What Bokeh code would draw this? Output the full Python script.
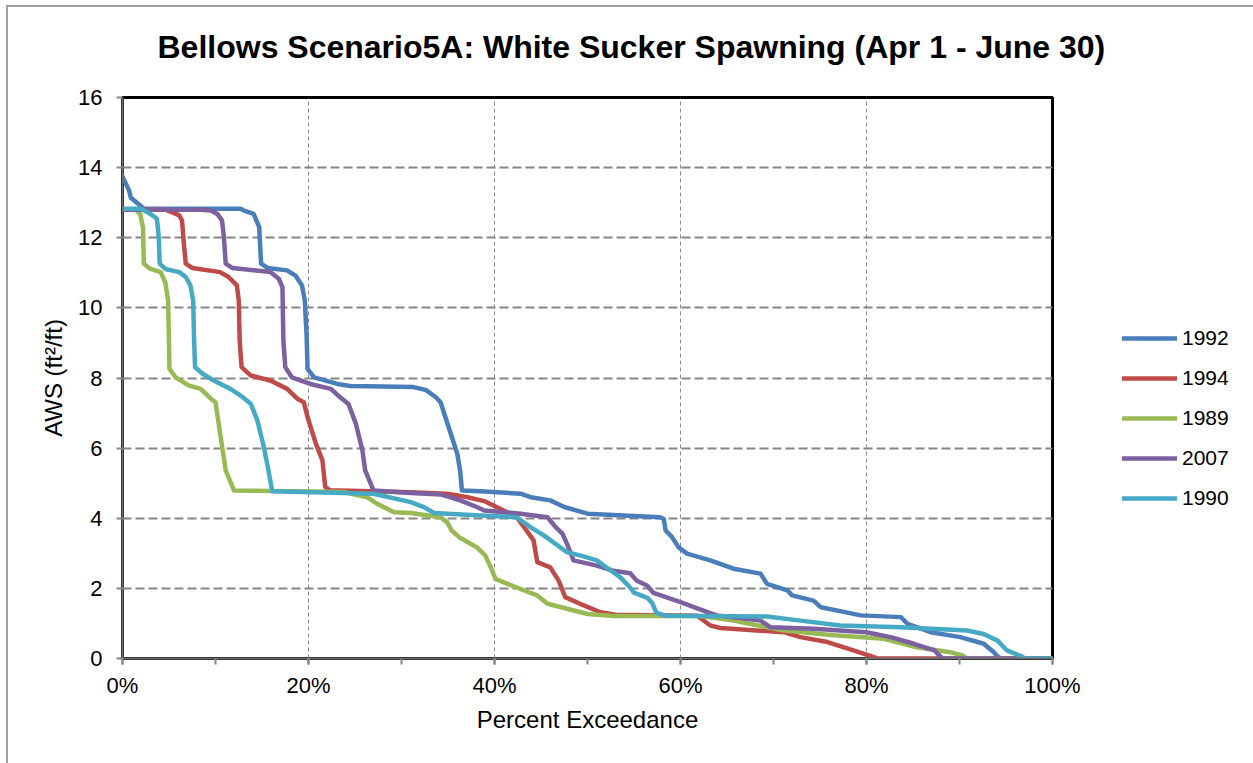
from bokeh.plotting import figure
from bokeh.models import Legend, LegendItem, FixedTicker, PrintfTickFormatter, Range1d, LinearAxis
from bokeh.embed import file_html
from bokeh.resources import INLINE

title_text = "Bellows Scenario5A: White Sucker Spawning (Apr 1 - June 30)"
x_label = "Percent Exceedance"
y_label = "AWS (ft\u00b2/ft)"
x_ticks = [0, 20, 40, 60, 80, 100]
x_minor = [0, 10, 20, 30, 40, 50, 60, 70, 80, 90, 100]
y_ticks = [0, 2, 4, 6, 8, 10, 12, 14, 16]

series_names = ["1992", "1994", "1989", "2007", "1990"]
series_colors = ["#4A7EBB", "#BE4B48", "#98B954", "#7D60A0", "#46AAC5"]

x_1992 = [0, 0.7, 0.9, 1.9, 2.3, 12.7, 13.0, 14.1, 14.7, 14.9, 15.6, 17.7, 18.6, 19.3, 19.6, 19.8, 19.9,
          20.6, 23.1, 24.5, 31.3, 32.6, 33.7, 34.2, 34.6, 35.3, 36.0, 36.3, 36.5, 38.5, 42.8, 43.9, 46.0,
          47.5, 50.0, 57.8, 58.2, 58.4, 59.1, 59.8, 60.7, 63.2, 65.7, 68.6, 69.3, 71.5, 72.0, 74.3, 75.1,
          79.4, 83.7, 84.4, 86.9, 90.1, 92.6, 93.7, 94.1, 94.4, 100]
y_1992 = [13.75, 13.35, 13.14, 12.92, 12.83, 12.83, 12.78, 12.68, 12.3, 11.26, 11.14, 11.07, 10.92, 10.64,
          10.21, 9.2, 8.26, 8.02, 7.83, 7.77, 7.74, 7.66, 7.45, 7.31, 6.98, 6.41, 5.84, 5.36, 4.79, 4.77,
          4.70, 4.60, 4.51, 4.32, 4.13, 4.03, 3.98, 3.65, 3.46, 3.17, 2.99, 2.80, 2.56, 2.42, 2.13, 1.94,
          1.80, 1.65, 1.46, 1.23, 1.18, 0.99, 0.75, 0.61, 0.42, 0.18, 0.06, 0, 0]

x_1994 = [0, 4.6, 5.3, 6.1, 6.4, 6.6, 6.8, 7.5, 10.5, 11.4, 12.3, 12.5, 12.6, 12.8, 13.8, 15.9, 17.7, 18.8,
          19.5, 19.9, 20.8, 21.5, 21.8, 22.3, 31.0, 34.9, 37.1, 38.9, 40.6, 42.4, 43.2, 44.2, 44.6, 46.0,
          46.9, 47.6, 49.2, 51.4, 53.0, 61.8, 63.2, 64.3, 71.1, 72.9, 75.8, 78.6, 80.8, 81.2, 100]
y_1994 = [12.8, 12.8, 12.73, 12.64, 12.49, 11.83, 11.26, 11.14, 11.02, 10.88, 10.64, 10.21, 9.07, 8.31,
          8.07, 7.93, 7.69, 7.41, 7.31, 6.88, 6.12, 5.65, 4.89, 4.80, 4.74, 4.70, 4.60, 4.49, 4.27, 4.03,
          3.74, 3.37, 2.75, 2.60, 2.22, 1.75, 1.56, 1.32, 1.25, 1.22, 0.94, 0.87, 0.75, 0.61, 0.47, 0.23,
          0.04, 0, 0]

x_1989 = [0, 1.4, 1.9, 2.2, 2.3, 3.0, 4.1, 4.6, 4.9, 5.0, 5.05, 5.7, 7.1, 8.4, 9.5, 10.0, 10.5, 11.1, 12.0,
          23.8, 26.3, 27.4, 29.2, 31.0, 34.2, 34.9, 35.4, 36.2, 38.1, 39.0, 39.6, 40.1, 41.4, 43.2, 44.6,
          45.7, 47.8, 50.0, 52.8, 62.2, 65.7, 71.1, 76.5, 81.9, 85.4, 89.0, 90.3, 90.8, 100]
y_1989 = [12.8, 12.8, 12.68, 12.30, 11.26, 11.11, 11.02, 10.73, 10.21, 9.07, 8.26, 8.02, 7.79, 7.69, 7.41,
          7.31, 6.41, 5.36, 4.79, 4.75, 4.60, 4.41, 4.17, 4.15, 4.03, 3.89, 3.65, 3.46, 3.17, 2.94, 2.60,
          2.27, 2.13, 1.94, 1.80, 1.56, 1.42, 1.27, 1.21, 1.21, 1.08, 0.80, 0.66, 0.56, 0.32, 0.18, 0.09,
          0, 0]

x_2007 = [0, 8.4, 9.5, 10.2, 10.7, 10.9, 11.1, 11.8, 15.9, 16.8, 17.2, 17.3, 17.5, 18.2, 20.2, 22.4, 23.4,
          24.3, 25.1, 25.8, 26.1, 26.7, 27.0, 31.0, 34.2, 36.3, 38.1, 38.9, 42.8, 45.7, 46.6, 47.3, 47.8,
          48.5, 51.0, 52.8, 54.6, 55.3, 56.4, 57.1, 60.0, 62.9, 63.9, 68.6, 69.7, 74.3, 80.0, 82.6, 85.1,
          87.3, 88.0, 88.3, 100]
y_2007 = [12.8, 12.8, 12.78, 12.68, 12.49, 12.02, 11.26, 11.14, 11.02, 10.83, 10.59, 9.07, 8.31, 8.02,
          7.83, 7.69, 7.45, 7.26, 6.69, 5.93, 5.36, 4.98, 4.79, 4.72, 4.68, 4.51, 4.32, 4.22, 4.13, 4.03,
          3.74, 3.56, 3.27, 2.80, 2.65, 2.50, 2.43, 2.22, 2.08, 1.87, 1.61, 1.32, 1.23, 1.08, 0.89, 0.85,
          0.75, 0.61, 0.42, 0.23, 0.04, 0, 0]

x_1990 = [0, 1.9, 2.7, 3.2, 3.7, 3.9, 4.0, 4.6, 6.1, 6.8, 7.3, 7.6, 7.7, 7.8, 8.6, 9.8, 11.6, 12.7, 13.8,
          14.5, 15.2, 15.7, 16.1, 27.0, 31.0, 32.4, 33.5, 38.5, 42.4, 43.9, 45.3, 47.8, 49.2, 51.0, 52.5,
          53.5, 54.5, 55.0, 56.5, 57.0, 57.4, 58.4, 69.3, 72.9, 77.2, 83.7, 90.8, 92.6, 94.1, 95.1, 96.7,
          97.0, 100]
y_1990 = [12.83, 12.83, 12.73, 12.64, 12.54, 12.02, 11.26, 11.11, 11.02, 10.88, 10.64, 10.21, 9.07, 8.31,
          8.12, 7.93, 7.69, 7.50, 7.26, 6.79, 6.03, 5.36, 4.77, 4.70, 4.46, 4.32, 4.15, 4.08, 4.03, 3.74,
          3.51, 3.03, 2.94, 2.80, 2.51, 2.32, 2.05, 1.88, 1.72, 1.56, 1.30, 1.22, 1.20, 1.08, 0.94, 0.89,
          0.80, 0.70, 0.51, 0.23, 0.06, 0, 0]

series_x = [x_1992, x_1994, x_1989, x_2007, x_1990]
series_y = [y_1992, y_1994, y_1989, y_2007, y_1990]

FONT = "Liberation Sans"

p = figure(frame_width=930, frame_height=561, output_backend="svg", toolbar_location=None,
           x_range=Range1d(0, 100), y_range=Range1d(0, 16),
           min_border_left=114, min_border_right=201, min_border_top=90, min_border_bottom=105)
p.styles = {"margin-left": "6px", "margin-top": "5px",
            "border-left": "2px solid #a0a0a0", "border-top": "2px solid #a0a0a0"}
p.background_fill_color = "white"
p.border_fill_color = "white"
p.outline_line_color = "black"
p.outline_line_width = 3

xa = p.below[0]
ya = p.left[0]

# invisible spacer between the title and the plot area (one hidden tick, empty label)
spacer = LinearAxis(ticker=FixedTicker(ticks=[50], minor_ticks=[]), axis_line_color=None,
                    major_tick_line_color=None, minor_tick_line_color=None,
                    major_tick_in=0, major_tick_out=28, minor_tick_in=0, minor_tick_out=0,
                    major_label_standoff=0, major_label_overrides={50: ""},
                    major_label_text_font_size="1px")
p.add_layout(spacer, "above")

# title
p.title.text = title_text
p.title.text_font = FONT
p.title.text_font_size = "32px"
p.title.text_font_style = "bold"
p.title.text_color = "black"
p.title.align = "left"
p.title.offset = 35
p.title.standoff = 10

# axes
xa.ticker = FixedTicker(ticks=x_ticks, minor_ticks=x_minor)
xa.formatter = PrintfTickFormatter(format="%d%%")
ya.ticker = FixedTicker(ticks=y_ticks, minor_ticks=[])
for ax in (xa, ya):
    ax.axis_line_color = "#6e6e6e"
    ax.axis_line_width = 2
    ax.major_tick_line_color = "#868686"
    ax.major_tick_line_width = 2
    ax.minor_tick_line_color = "#868686"
    ax.minor_tick_line_width = 2
    ax.major_tick_in = 0
    ax.major_tick_out = 6
    ax.minor_tick_in = 0
    ax.major_label_text_font = FONT
    ax.major_label_text_font_size = "22px"
    ax.major_label_text_color = "black"
    ax.axis_label_text_font = FONT
    ax.axis_label_text_font_size = "24px"
    ax.axis_label_text_font_style = "normal"
    ax.axis_label_text_color = "black"
xa.minor_tick_out = 6
ya.minor_tick_out = 0
xa.axis_label = x_label
ya.axis_label = y_label
xa.major_label_standoff = 8
ya.major_label_standoff = 14
xa.axis_label_standoff = 5
ya.axis_label_standoff = 8

# grids
p.ygrid.grid_line_color = "#868686"
p.ygrid.grid_line_width = 2
p.ygrid.grid_line_dash = "9 4"
p.xgrid.grid_line_color = "#8c8c8c"
p.xgrid.grid_line_width = 1
p.xgrid.grid_line_dash = "4 3"

items = []
for name, color, xs, ys in zip(series_names, series_colors, series_x, series_y):
    r = p.line(xs, ys, line_color=color, line_width=4.5, line_join="round", line_cap="round")
    items.append(LegendItem(label=name, renderers=[r]))

legend = Legend(items=items, location=(70, 148), glyph_width=55, glyph_height=24,
                label_height=24, spacing=16, label_standoff=5, padding=0, margin=0,
                border_line_alpha=0, background_fill_alpha=0,
                label_text_font=FONT, label_text_font_size="21px", label_text_color="black")
p.add_layout(legend, "right")

open("out.html", "w").write(file_html(p, INLINE))
